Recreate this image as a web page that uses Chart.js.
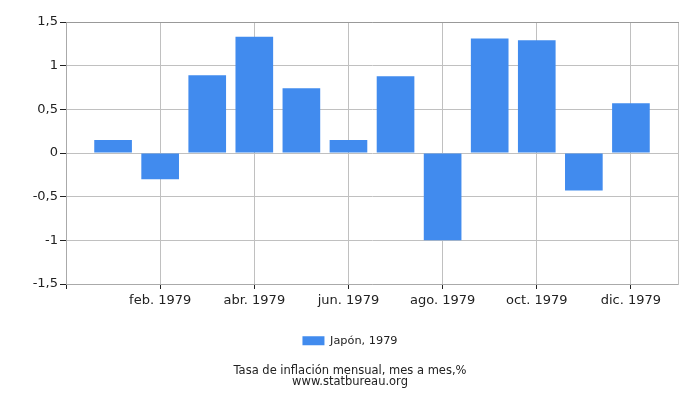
<!DOCTYPE html>
<html>
<head>
<meta charset="utf-8">
<script src="https://cdn.jsdelivr.net/npm/chart.js@4/dist/chart.umd.min.js"></script>
<style>
  body { margin: 0; background: #fff; }
  #wrap { width: 700px; height: 400px; }
</style>
</head>
<body>
<div id="wrap"><canvas id="myChart"></canvas></div>
<script>
// months of 1979, bars sit at x = 1..12
const months = ['ene. 1979', 'feb. 1979', 'mar. 1979', 'abr. 1979', 'may. 1979', 'jun. 1979',
                'jul. 1979', 'ago. 1979', 'sep. 1979', 'oct. 1979', 'nov. 1979', 'dic. 1979'];
const monthPos = [1, 2, 3, 4, 5, 6, 7, 8, 9, 10, 11, 12];
const inflation = [0.15, -0.3, 0.89, 1.33, 0.74, 0.15, 0.88, -1.0, 1.31, 1.29, -0.43, 0.57];
const yTicks = [-1.5, -1, -0.5, 0, 0.5, 1, 1.5];

const points = [];
for (let i = 0; i < months.length; i++) {
    points.push({ x: monthPos[i], y: inflation[i] });
}

Chart.defaults.font.family = 'DejaVu Sans';
Chart.defaults.color = '#222';

const ctx = document.getElementById('myChart');

new Chart(ctx, {
  type: 'bar',
  data: {
    datasets: [{
      label: 'Japón, 1979',
      data: points,
      backgroundColor: '#418bee',
      borderWidth: 0,
      barPercentage: 0.8,
      categoryPercentage: 1
    }]
  },
  options: {
    responsive: true,
    maintainAspectRatio: false,
    animation: false,
    layout: { padding: { left: 0, right: 0, top: 22, bottom: 13 } },
    scales: {
      x: {
        type: 'linear',
        offset: false,
        min: 0,
        max: 13,
        afterBuildTicks: function (scale) {
          scale.ticks = [0, 2, 4, 6, 8, 10, 12, 13].map(v => ({ value: v }));
        },
        afterFit: function (scale) { scale.height = 41; },
        ticks: {
          autoSkip: false,
          maxRotation: 0,
          font: { size: 13 },
          padding: 4,
          callback: function (value) {
            if (value >= 1 && value <= 12) return months[value - 1];
            return '';
          }
        },
        grid: {
          offset: false,
          color: '#c0c0c0',
          tickColor: function (c) { return c.tick && c.tick.value === 13 ? 'rgba(0,0,0,0)' : '#222'; },
          tickLength: 5
        },
        border: { color: '#aaa' }
      },
      y: {
        min: -1.5,
        max: 1.5,
        afterBuildTicks: function (scale) {
          scale.ticks = yTicks.map(v => ({ value: v }));
        },
        afterFit: function (scale) { scale.width = 66; },
        ticks: {
          font: { size: 13 },
          padding: 2,
          callback: function (value) { return String(value).replace('.', ','); }
        },
        grid: {
          color: '#c0c0c0',
          tickColor: '#222',
          tickLength: 6
        },
        border: { color: '#aaa' }
      },
      y2: {
        position: 'right',
        min: -1.5,
        max: 1.5,
        display: true,
        afterFit: function (scale) { scale.width = 22; },
        ticks: { display: false },
        grid: { display: false },
        border: { color: '#c0c0c0' }
      },
      x2: {
        type: 'linear',
        position: 'top',
        offset: false,
        min: 0,
        max: 13,
        afterFit: function (scale) { scale.height = 0; },
        ticks: { display: false },
        grid: { display: false },
        border: { color: '#999' }
      }
    },
    plugins: {
      legend: {
        position: 'bottom',
        labels: {
          boxWidth: 22,
          boxHeight: 9,
          padding: 10,
          font: { size: 11.3 },
          color: '#222'
        }
      },
      title: {
        display: true,
        position: 'bottom',
        text: ['Tasa de inflación mensual, mes a mes,%', 'www.statbureau.org'],
        font: { size: 11.5, weight: 'normal', lineHeight: 0.9 },
        color: '#222',
        padding: { top: 10, bottom: 0 }
      },
      tooltip: { enabled: false }
    }
  }
});
</script>
</body>
</html>
